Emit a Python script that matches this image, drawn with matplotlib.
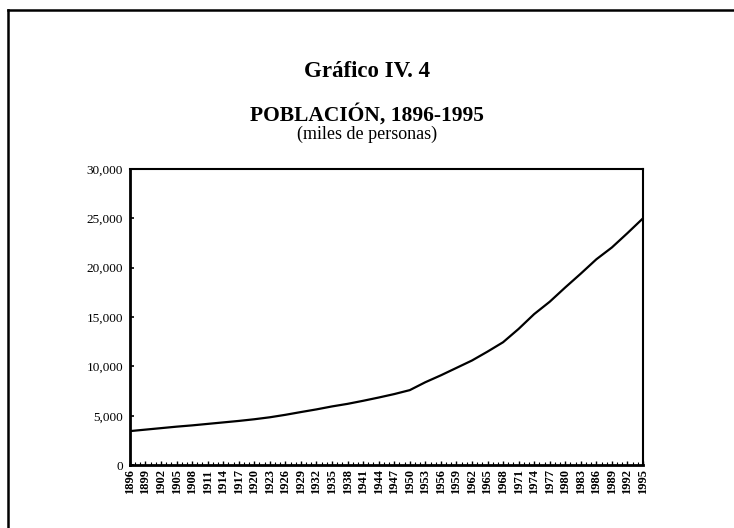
import numpy as np
import matplotlib.pyplot as plt
from matplotlib.lines import Line2D
from matplotlib.ticker import FuncFormatter, MultipleLocator

# datos (miles de personas)
anios = list(range(1896, 1996, 3))
poblacion = [3450, 3600, 3750, 3900, 4030, 4180, 4330, 4480, 4650, 4850,
             5100, 5380, 5650, 5950, 6210, 6520, 6850, 7200, 7600, 8400,
             9100, 9850, 10600, 11500, 12450, 13800, 15300, 16550, 18000,
             19400, 20850, 22050, 23500, 25000]
y_ticks = [0, 5000, 10000, 15000, 20000, 25000, 30000]

plt.rcParams['font.family'] = ['Liberation Serif', 'DejaVu Serif']

fig = plt.figure(figsize=(7.34, 5.28), dpi=100)
ax = fig.add_axes([0.177, 0.119, 0.699, 0.561])

ax.plot(anios, poblacion, color='black', lw=1.6)

ax.set_xlim(1896, 1995)
ax.set_ylim(0, 30000)
ax.set_yticks(y_ticks)
ax.yaxis.set_major_formatter(FuncFormatter(lambda v, p: f"{int(v):,}"))
ax.set_xticks(anios)
ax.set_xticklabels([str(a) for a in anios], rotation=90, fontsize=9, fontweight='bold')
ax.xaxis.set_minor_locator(MultipleLocator(1))
ax.tick_params(axis='y', labelsize=9.5, length=3, width=1.2, direction='in', pad=5)
ax.tick_params(axis='x', which='major', length=3, width=1, direction='in', pad=3)
ax.tick_params(axis='x', which='minor', length=2, width=0.8, direction='in')

for lado in ['left', 'bottom']:
    ax.spines[lado].set_linewidth(2)
for lado in ['top', 'right']:
    ax.spines[lado].set_linewidth(1.5)

# titulos
fig.text(0.5, 0.865, "Gráfico IV. 4", ha='center', va='center', fontsize=16.5, fontweight='bold')
fig.text(0.5, 0.782, "POBLACIÓN, 1896-1995", ha='center', va='center', fontsize=15.5, fontweight='bold')
fig.text(0.5, 0.745, "(miles de personas)", ha='center', va='center', fontsize=13)

# marco del documento
fig.add_artist(Line2D([8/734, 8/734], [0, 1 - 10/528], transform=fig.transFigure, color='black', lw=1.8))
fig.add_artist(Line2D([8/734, 1], [1 - 10/528, 1 - 10/528], transform=fig.transFigure, color='black', lw=1.8))

fig.savefig("out.png", dpi=100)
